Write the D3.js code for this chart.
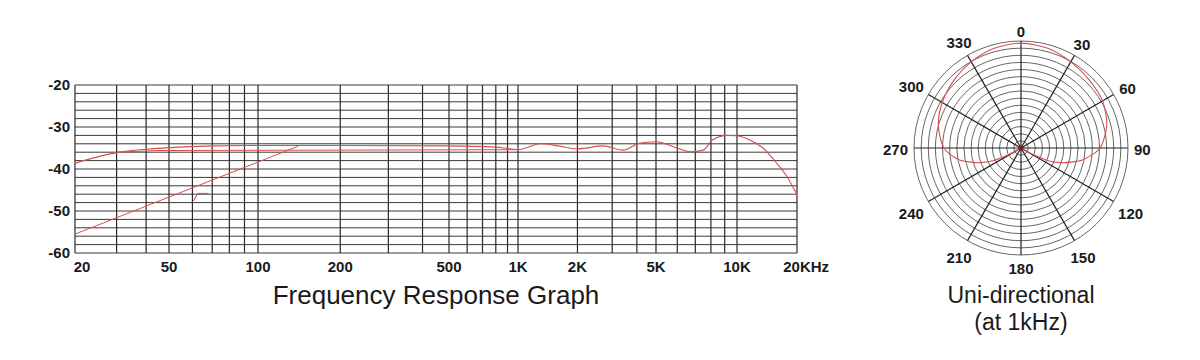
<!DOCTYPE html>
<html>
<head>
<meta charset="utf-8">
<script src="https://cdn.jsdelivr.net/npm/d3@7"></script>
<style>
body { margin: 0; background: #fff; }
text { font-family: Arial, "Liberation Sans", sans-serif; fill: #1a1a1a; }
</style>
</head>
<body>
<div id="chart"></div>
<script>
// frequency response (Hz / dB)
const responseFreq = [20, 30, 40, 50, 70, 100, 200, 500, 800, 900, 1000, 1300, 1600, 2000, 2700, 3400, 4100, 5000, 6100, 6700, 7500, 8100, 9200, 10000, 11600, 13500, 15800, 17800, 20000];
const responseDb = [-38.6, -36.1, -35.3, -34.9, -34.5, -34.4, -34.4, -34.5, -34.8, -35.1, -35.4, -34.0, -34.5, -35.2, -34.5, -35.5, -33.9, -33.5, -35.2, -35.9, -35.5, -33.1, -32.0, -32.1, -33.1, -35.0, -38.6, -41.8, -46.1];

// low cut line
const lowCutFreq = [20, 140];
const lowCutDb = [-55.5, -34.6];

// flat reference line
const flatFreq = [30, 45, 1000];
const flatDb = [-36.0, -35.6, -35.4];

// small stray mark
const strayFreq = [60.5, 62.5, 68];
const strayDb = [-47.6, -45.8, -45.8];

// grid + ticks
const gridFreq = [20, 30, 40, 50, 60, 70, 80, 90, 100, 200, 300, 400, 500, 600, 700, 800, 900, 1000, 2000, 3000, 4000, 5000, 6000, 7000, 8000, 9000, 10000, 20000];
const tickFreq = [20, 50, 100, 200, 500, 1000, 2000, 5000, 10000, 20000];
const tickNames = ["20", "50", "100", "200", "500", "1K", "2K", "5K", "10K", "20K"];
const dbTicks = [-20, -30, -40, -50, -60];

// polar pattern (deg / relative level)
const polarAngle = [0, 15, 30, 45, 60, 75, 90, 100, 105, 110, 115, 120, 125, 180, 235, 240, 245, 250, 255, 260, 270, 285, 300, 315, 330, 345];
const polarLevel = [0.98, 0.965, 0.93, 0.90, 0.88, 0.83, 0.74, 0.60, 0.50, 0.40, 0.28, 0.10, 0.02, 0, 0.02, 0.10, 0.27, 0.40, 0.50, 0.60, 0.72, 0.80, 0.85, 0.89, 0.93, 0.965];
const polarLabels = [0, 30, 60, 90, 120, 150, 180, 210, 240, 270, 300, 330];

const width = 1200;
const height = 360;
const margin = { top: 85, left: 75, right: 403, bottom: 107 };
const plotW = width - margin.left - margin.right;
const plotH = height - margin.top - margin.bottom;
const red = "#d8504c";

const svg = d3.select("div#chart").append("svg").attr("width", width).attr("height", height)
svg.append("rect").attr("width", width).attr("height", height).attr("fill", "#fff")

// ---------------- frequency response ----------------
// hand drawn paper: log scale, stretched per decade
const x = d3.scaleLog()
    .domain([20, 50, 100, 500, 1000, 5000, 10000, 20000])
    .range([0, 0.1302, 0.2535, 0.5180, 0.6136, 0.8047, 0.9169, 1].map(f => margin.left + f * plotW))
const y = d3.scaleLinear().domain([-60, -20]).range([margin.top + plotH, margin.top])

const grid = svg.append("g").attr("class", "grid")
grid.selectAll(".hline")
    .data(d3.range(-60, -19, 2))
    .enter().append("line")
    .attr("x1", x(20)).attr("x2", x(20000))
    .attr("y1", d => y(d)).attr("y2", d => y(d))
    .attr("stroke", "#3a3a3a").attr("stroke-width", 1)
grid.selectAll(".vline")
    .data(gridFreq)
    .enter().append("line")
    .attr("x1", d => x(d)).attr("x2", d => x(d))
    .attr("y1", y(-20)).attr("y2", y(-60))
    .attr("stroke", "#2a2a2a").attr("stroke-width", 1.2)

// y labels
svg.selectAll(".ylab")
    .data(dbTicks)
    .enter().append("text")
    .attr("x", x(20) - 5)
    .attr("y", d => y(d))
    .attr("dy", "0.36em")
    .attr("text-anchor", "end")
    .attr("font-size", 15)
    .attr("font-weight", "bold")
    .text(d => d)

// x labels
const xl = svg.selectAll(".xlab")
    .data(tickFreq)
    .enter().append("text")
    .attr("x", d => x(d))
    .attr("y", y(-60) + 19)
    .attr("text-anchor", "middle")
    .attr("font-size", 15)
    .attr("font-weight", "bold")
    .text((d, i) => tickNames[i])
xl.filter(d => d === 20).attr("dx", 7)
xl.filter(d => d === 20000).each(function() {
    const w = this.getComputedTextLength();
    d3.select(this).attr("text-anchor", "start").attr("dx", -w / 2).append("tspan").text("Hz")
})

const line = d3.line().x(d => x(d[0])).y(d => y(d[1]))
const zip = (a, b) => a.map((v, i) => [v, b[i]])

svg.append("path").datum(zip(flatFreq, flatDb))
    .attr("d", line).attr("fill", "none").attr("stroke", red).attr("stroke-width", 1)
svg.append("path").datum(zip(lowCutFreq, lowCutDb))
    .attr("d", line).attr("fill", "none").attr("stroke", red).attr("stroke-width", 1)
svg.append("path").datum(zip(strayFreq, strayDb))
    .attr("d", line).attr("fill", "none").attr("stroke", red).attr("stroke-width", 1)
svg.append("path").datum(zip(responseFreq, responseDb))
    .attr("d", line.curve(d3.curveMonotoneX)).attr("fill", "none").attr("stroke", red).attr("stroke-width", 1.1)

svg.append("text")
    .attr("x", (x(20) + x(20000)) / 2)
    .attr("y", 304)
    .attr("text-anchor", "middle")
    .attr("font-size", 26)
    .text("Frequency Response Graph")

// ---------------- polar pattern ----------------
const cx = 1021, cy = 148, R = 107;
const r = d3.scaleLinear().domain([0, 1]).range([0, R])
const polar = svg.append("g").attr("transform", `translate(${cx}, ${cy})`)

polar.selectAll(".ring")
    .data(d3.range(1, 16).map(i => i / 15))
    .enter().append("circle")
    .attr("r", d => r(d))
    .attr("fill", "none").attr("stroke", "#555").attr("stroke-width", 0.9)

const rad = a => a * Math.PI / 180
polar.selectAll(".spoke")
    .data(d3.range(0, 360, 30))
    .enter().append("line")
    .attr("x1", 0).attr("y1", 0)
    .attr("x2", d => r(1) * Math.sin(rad(d)))
    .attr("y2", d => -r(1) * Math.cos(rad(d)))
    .attr("stroke", "#222").attr("stroke-width", 1.2)

polar.append("path")
    .datum(zip(polarAngle, polarLevel))
    .attr("d", d3.lineRadial().angle(d => rad(d[0])).radius(d => r(d[1])).curve(d3.curveCardinalClosed.tension(0.2)))
    .attr("fill", "none").attr("stroke", red).attr("stroke-width", 1.1)

polar.append("circle").attr("r", 2.5).attr("fill", "#7a2222")

// labels sit just outside the rim, pushed out by their own box
polar.selectAll(".plab")
    .data(polarLabels)
    .enter().append("text")
    .attr("text-anchor", "middle")
    .attr("dy", "0.36em")
    .attr("font-size", 15)
    .attr("font-weight", "bold")
    .text(d => d)
    .each(function(d) {
        const hw = this.getComputedTextLength() / 2, hh = 5.5;
        const s = Math.sin(rad(d)), c = Math.cos(rad(d));
        const off = R + 6 + Math.abs(s) * hw + Math.abs(c) * hh;
        d3.select(this).attr("x", off * s).attr("y", -off * c + 2)
    })

svg.append("text").attr("x", cx).attr("y", 303).attr("text-anchor", "middle").attr("font-size", 23).text("Uni-directional")
svg.append("text").attr("x", cx).attr("y", 330).attr("text-anchor", "middle").attr("font-size", 23).text("(at 1kHz)")
</script>
</body>
</html>
